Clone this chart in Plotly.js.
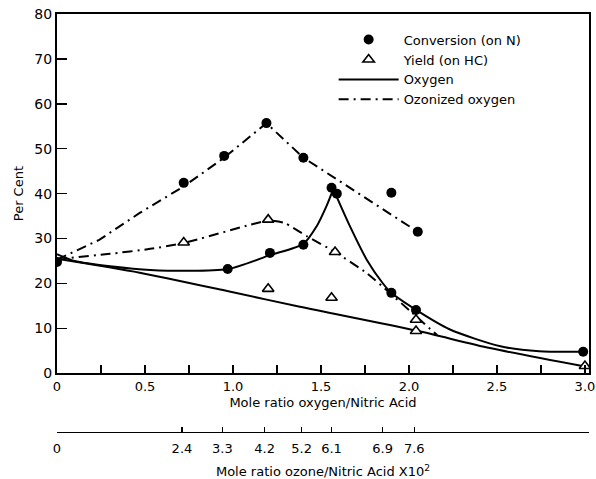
<!DOCTYPE html>
<html>
<head>
<meta charset="utf-8">
<script src="https://cdn.plot.ly/plotly-3.0.1.min.js"></script>
<style>html,body{margin:0;padding:0;background:#fff;}#chart{width:596px;height:479px;}</style>
</head>
<body>
<div id="chart"></div>
<script>
// Axis ticks
const xTickVals = [0, 0.5, 1.0, 1.5, 2.0, 2.5, 3.0];
const xTickText = ['0', '0.5', '1.0', '1.5', '2.0', '2.5', '3.0'];
const ozoneTickVals = [0, 0.71, 0.94, 1.18, 1.39, 1.56, 1.85, 2.03];
const ozoneTickText = ['0', '2.4', '3.3', '4.2', '5.2', '6.1', '6.9', '7.6'];
const yTickVals = [0, 10, 20, 30, 40, 50, 60, 70, 80];

// Measured points: Conversion (on N)
const convOzX = [0.72, 0.95, 1.19, 1.40, 1.90, 2.05];
const convOzY = [42.4, 48.4, 55.7, 48.0, 40.2, 31.5];
const convOxX = [0, 0.97, 1.21, 1.40, 1.56, 1.59, 1.90, 2.04, 2.99];
const convOxY = [24.8, 23.2, 26.8, 28.6, 41.3, 40.0, 17.9, 14.1, 4.8];
// Measured points: Yield (on HC)
const yieldOzX = [0.72, 1.20, 1.58, 2.04];
const yieldOzY = [29.1, 34.2, 27.0, 11.9];
const yieldOxX = [1.20, 1.56, 2.04, 3.0];
const yieldOxY = [18.8, 16.8, 9.4, 1.6];

// Drawn curves
const ozConvCurveX = [0, 0.24, 0.47, 0.72, 0.95, 1.19, 1.40, 2.05];
const ozConvCurveY = [25.3, 29.7, 35.7, 41.6, 48.0, 55.7, 48.0, 31.5];
const ozYieldCurveX = [0, 0.06, 0.30, 0.53, 0.72, 1.10, 1.20, 1.29, 1.42, 1.58, 1.76, 1.89, 2.02, 2.16];
const ozYieldCurveY = [25.2, 25.6, 26.6, 27.7, 29.0, 33.1, 34.0, 33.5, 30.5, 27.0, 22.3, 17.9, 13.4, 8.5];
const oxConvRiseX = [0, 0.1, 0.53, 0.97, 1.21, 1.40, 1.475, 1.53, 1.57];
const oxConvRiseY = [26.5, 25.0, 23.0, 23.2, 26.3, 28.8, 32.7, 37.1, 41.0];
const oxConvFallX = [1.57, 1.665, 1.76, 1.85, 1.90, 2.04, 2.23, 2.52, 2.74, 3.0];
const oxConvFallY = [41.0, 32.7, 25.3, 20.1, 17.9, 14.1, 9.8, 6.0, 4.9, 4.8];
const oxYieldLineX = [0, 0.47, 0.98, 1.38, 2.04, 2.46, 3.0];
const oxYieldLineY = [25.5, 22.4, 18.2, 14.8, 9.5, 5.6, 1.5];

const FONT = 'DejaVu Sans, Liberation Sans, sans-serif';
const DASHDOT = '10px,5px,2px,5px';
const solid = {color: '#000', width: 2, shape: 'spline', smoothing: 0.7};
const dashed = {color: '#000', width: 2, dash: DASHDOT};

const traces = [
  {x: oxConvRiseX, y: oxConvRiseY, mode: 'lines', name: 'Oxygen', legendrank: 3,
   line: solid, hoverinfo: 'skip'},
  {x: oxConvFallX, y: oxConvFallY, mode: 'lines', showlegend: false,
   line: solid, hoverinfo: 'skip'},
  {x: oxYieldLineX, y: oxYieldLineY, mode: 'lines', showlegend: false,
   line: solid, hoverinfo: 'skip'},
  {x: ozConvCurveX, y: ozConvCurveY, mode: 'lines', name: 'Ozonized oxygen', legendrank: 4,
   line: dashed, hoverinfo: 'skip'},
  {x: ozYieldCurveX, y: ozYieldCurveY, mode: 'lines', showlegend: false,
   line: Object.assign({}, dashed, {shape: 'spline', smoothing: 0.6}), hoverinfo: 'skip'},
  {x: convOxX, y: convOxY, mode: 'markers', name: 'Conversion (on N)', legendrank: 1,
   marker: {symbol: 'circle', size: 10, color: '#000'}},
  {x: convOzX, y: convOzY, mode: 'markers', showlegend: false,
   marker: {symbol: 'circle', size: 10, color: '#000'}},
  {x: yieldOxX, y: yieldOxY, mode: 'markers', name: 'Yield (on HC)', legendrank: 2,
   marker: {symbol: 'triangle-up', size: 10, color: '#fff', line: {color: '#000', width: 1.6}}},
  {x: yieldOzX, y: yieldOzY, mode: 'markers', showlegend: false,
   marker: {symbol: 'triangle-up', size: 10, color: '#fff', line: {color: '#000', width: 1.6}}},
  // invisible trace to carry the ozone axis
  {x: [0, 3.0], y: [null, null], xaxis: 'x2', mode: 'markers', showlegend: false, hoverinfo: 'skip'}
];

const layout = {
  width: 596, height: 479,
  margin: {l: 57, r: 7, t: 14.4, b: 40},
  paper_bgcolor: '#fff', plot_bgcolor: '#fff',
  font: {family: FONT, color: '#000', size: 12},
  showlegend: true,
  legend: {x: 0.52, xanchor: 'left', y: 0.975, yanchor: 'top', bgcolor: 'rgba(0,0,0,0)',
           font: {family: FONT, size: 13, color: '#000'}, itemwidth: 60, tracegroupgap: 0},
  xaxis: {
    range: [0, 3.023], domain: [0, 1], anchor: 'y',
    tickmode: 'array', tickvals: xTickVals, ticktext: xTickText,
    ticks: 'inside', ticklen: 8, tickwidth: 1.5, tickcolor: '#000',
    minor: {tickmode: 'linear', tick0: 0.25, dtick: 0.5, ticks: 'inside', ticklen: 8, tickwidth: 1.5, tickcolor: '#000', showgrid: false},
    showline: true, linecolor: '#000', linewidth: 2, mirror: true,
    showgrid: false, zeroline: false, automargin: false,
    tickfont: {family: FONT, size: 13},
    title: {text: 'Mole ratio oxygen/Nitric Acid', font: {family: FONT, size: 13}, standoff: 5}
  },
  xaxis2: {
    range: [0, 3.023], overlaying: 'x', anchor: 'free', position: 0.0165, side: 'bottom',
    tickmode: 'array', tickvals: ozoneTickVals, ticktext: ozoneTickText,
    ticks: 'inside', ticklen: 5, tickwidth: 1.5, tickcolor: '#000',
    ticklabelstandoff: 4,
    showline: true, linecolor: '#000', linewidth: 1.5,
    showgrid: false, zeroline: false, automargin: false,
    tickfont: {family: FONT, size: 13},
    title: {text: 'Mole ratio ozone/Nitric Acid X10<sup>2</sup>', font: {family: FONT, size: 13}, standoff: 12}
  },
  yaxis: {
    range: [0, 80], domain: [0.1547, 1], anchor: 'x',
    tickmode: 'array', tickvals: yTickVals,
    ticks: 'inside', ticklen: 10, tickwidth: 1.5, tickcolor: '#000',
    showline: true, linecolor: '#000', linewidth: 2, mirror: true,
    showgrid: false, zeroline: false, automargin: false,
    tickfont: {family: FONT, size: 14},
    title: {text: 'Per Cent', font: {family: FONT, size: 13}, standoff: 8}
  }
};

Plotly.newPlot('chart', traces, layout, {staticPlot: true, displayModeBar: false});
</script>
</body>
</html>
